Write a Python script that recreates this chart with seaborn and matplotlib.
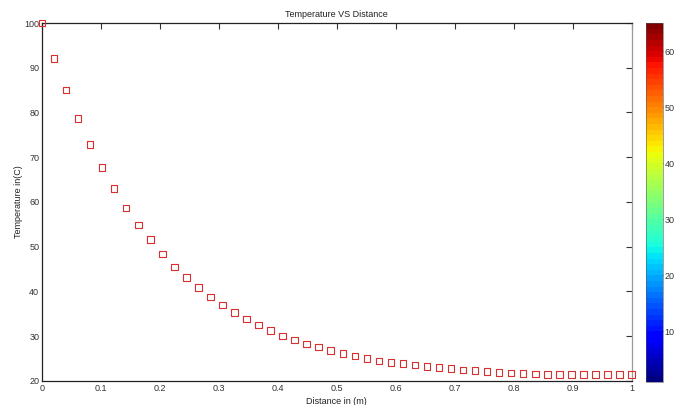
import numpy as np
import pandas as pd
import matplotlib
matplotlib.use("Agg")
import matplotlib.pyplot as plt
import seaborn as sns
from matplotlib import cm, colors

# ---- data ----
distance = np.linspace(0, 1, 50)
temperature = [100.0, 92.1, 85.0, 78.7, 72.8, 67.7, 63.0, 58.7, 54.9, 51.6,
               48.4, 45.5, 43.1, 40.9, 38.8, 37.0, 35.3, 33.9, 32.5, 31.3,
               30.1, 29.2, 28.3, 27.6, 26.8, 26.1, 25.6, 25.0, 24.5, 24.1,
               23.9, 23.6, 23.2, 23.0, 22.75, 22.5, 22.3, 22.1, 21.9, 21.75,
               21.7, 21.6, 21.5, 21.5, 21.4, 21.4, 21.4, 21.4, 21.4, 21.4]
x_ticks = [0, 0.1, 0.2, 0.3, 0.4, 0.5, 0.6, 0.7, 0.8, 0.9, 1]
x_tick_labels = ["0", "0.1", "0.2", "0.3", "0.4", "0.5", "0.6", "0.7", "0.8", "0.9", "1"]
y_ticks = [20, 30, 40, 50, 60, 70, 80, 90, 100]
cbar_ticks = [10, 20, 30, 40, 50, 60]
cbar_range = (1, 65)

df = pd.DataFrame({"Distance": distance, "Temperature": temperature})

sns.set_style("white")
plt.rcParams["font.family"] = ["Liberation Sans", "DejaVu Sans"]

fig = plt.figure(figsize=(6.83, 4.05), dpi=100)
ax = fig.add_axes([0.0615, 0.0593, 0.8631, 0.8839])

sns.scatterplot(data=df, x="Distance", y="Temperature", ax=ax, marker="s",
                s=22, facecolor="none", edgecolor="#d83030", linewidth=0.8,
                zorder=3, clip_on=False)

ax.set_xlim(0, 1)
ax.set_ylim(20, 100)
ax.set_xticks(x_ticks)
ax.set_xticklabels(x_tick_labels)
ax.set_yticks(y_ticks)
ax.tick_params(direction="in", length=4, width=0.8, labelsize=6.5,
               colors="#333333", top=True, right=True, pad=2)
for side in ["left", "bottom", "top"]:
    ax.spines[side].set_color("#222222")
    ax.spines[side].set_linewidth(0.9)
ax.spines["right"].set_color("#999999")
ax.spines["right"].set_linewidth(0.9)

ax.set_title("Temperature VS Distance", fontsize=6.5, color="#222222", pad=4)
ax.set_xlabel("Distance in (m)", fontsize=6.5, color="#222222", labelpad=3)
ax.set_ylabel("Temperature in(C)", fontsize=6.5, color="#222222", labelpad=1)

# colorbar
cax = fig.add_axes([0.9454, 0.0575, 0.0258, 0.885])
cmap = matplotlib.colormaps["jet"].resampled(64)
sm = cm.ScalarMappable(norm=colors.Normalize(*cbar_range), cmap=cmap)
cb = fig.colorbar(sm, cax=cax, ticks=cbar_ticks)
cb.outline.set_linewidth(0.4)
cb.outline.set_edgecolor("#555555")
cax.tick_params(direction="in", length=3, width=0.6, labelsize=6.5,
                colors="#333333", left=True, right=True, pad=1)

fig.savefig("out.png", dpi=100)
